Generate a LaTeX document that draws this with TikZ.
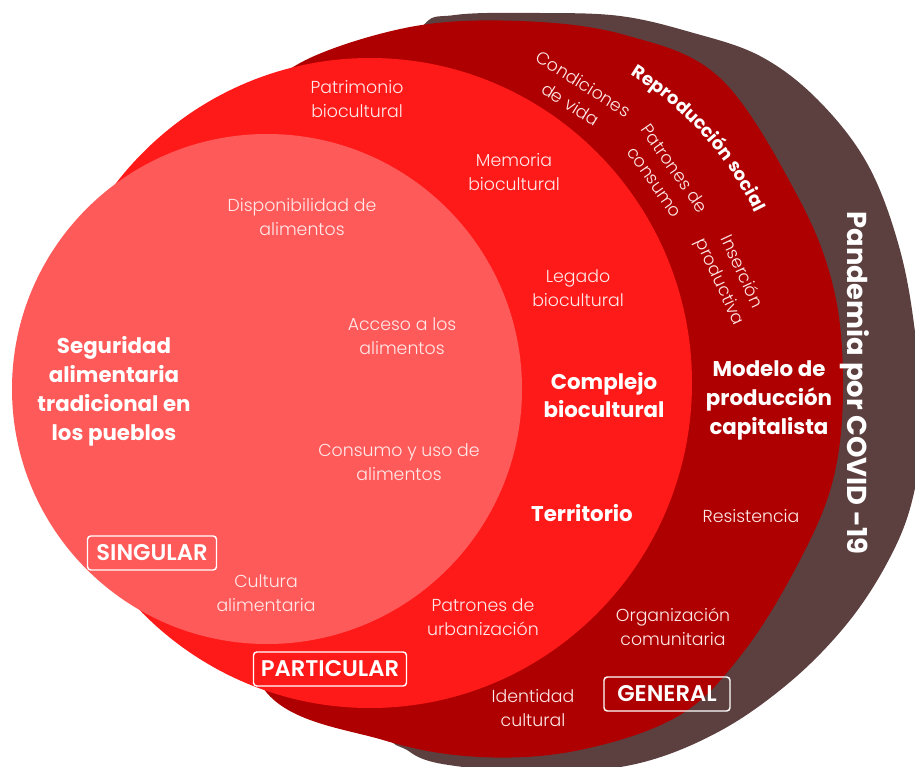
\documentclass[tikz,border=0pt]{standalone}
\usepackage{fontspec}
\setmainfont{Poppins}
\newfontfamily\litefont{Poppins Light}
\newfontfamily\semifont{Poppins SemiBold}
\newfontfamily\heavyfont{Poppins Bold}
\usetikzlibrary{decorations.text}
\definecolor{ringbrown}{HTML}{5C4040}
\definecolor{ringdark}{HTML}{AE0000}
\definecolor{ringred}{HTML}{FF1A1A}
\definecolor{ringlight}{HTML}{FF5A5A}
\definecolor{softwhite}{HTML}{FFE9E9}
\begin{document}
\begin{tikzpicture}[x=0.75pt,y=-0.75pt,
  lite/.style={font=\litefont\fontsize{13}{18}\selectfont,text=softwhite,align=center,inner sep=0pt},
  heavy/.style={font=\heavyfont\fontsize{16}{21.75}\selectfont,text=white,align=center,inner sep=0pt},
  tag/.style={draw=white,line width=1.1pt,rounded corners=2.5pt,
    font=\semifont\fontsize{17}{18}\selectfont,text=white,inner sep=0pt,minimum height=25.5pt}]
\useasboundingbox (0,0) rectangle (915,767);
\begin{scope}
  \clip (0,0) rectangle (915,767);
  % outer ring: pandemic
  \fill[ringbrown] plot[smooth cycle, tension=0.6] coordinates {
    (455,15) (540,13) (620,16) (690,32) (760,56) (818,100) (868,165) (900,250)
    (916,340) (922,430) (911,505) (886,565) (846,625) (790,682) (720,731)
    (640,763) (550,773) (470,768) (410,752) (380,700) (360,420) (380,120) (420,30)};
  % capitalist production model
  \fill[ringdark] plot[smooth cycle, tension=0.6] coordinates {
    (300,63) (410,27) (520,21) (625,35) (720,78) (797,195) (834,290) (843,390)
    (833,480) (800,560) (745,650) (680,715) (580,750) (480,757) (383,740)
    (267,693) (230,560) (210,390) (230,220) (260,110)};
  % biocultural complex
  \fill[ringred] (370,383) ellipse [x radius=322, y radius=325];
  % traditional food security
  \fill[ringlight] (267,389) circle [radius=255];
\end{scope}

% inner circle
\node[heavy] (seguridad) at (114,391) {Seguridad\\alimentaria\\tradicional en\\los pueblos};
\node[lite] (disponibilidad) at (302,217) {Disponibilidad de\\alimentos};
\node[lite] (acceso) at (402,336) {Acceso a los\\alimentos};
\node[lite] (consumo) at (399,462) {Consumo y uso de\\alimentos};
\node[lite] (cultura) at (266,593) {Cultura\\alimentaria};
\node[tag, minimum width=96.75pt] (singular) at (152,553) {SINGULAR};

% biocultural ring
\node[lite] (patrimonio) at (357,99) {Patrimonio\\biocultural};
\node[lite] (memoria) at (514,172) {Memoria\\biocultural};
\node[lite] (legado) at (578,288) {Legado\\biocultural};
\node[heavy,font=\heavyfont\fontsize{16}{21}\selectfont] (complejo) at (604,395) {Complejo\\biocultural};
\node[heavy] (territorio) at (582,513) {Territorio};
\node[lite] (urbanizacion) at (483,617) {Patrones de\\urbanización};
\node[tag, minimum width=114.75pt] (particular) at (330,669) {PARTICULAR};

% capitalist ring
\node[lite, rotate=-32] (condiciones) at (577,94) {Condiciones\\de vida};
\node[lite, rotate=-55] (patrones) at (665,175) {Patrones de\\consumo};
\node[lite, rotate=-65] (insercion) at (730,277) {Inserción\\productiva};
\path[decorate, decoration={text along path, text align=center, text color=white,
    text={|\heavyfont\fontsize{13.5}{15}\selectfont|Reproducción social}}]
  (453,360) ++(-63:336) arc[start angle=-63, end angle=-21, radius=336];
\node[heavy] (modelo) at (769,400) {Modelo de\\producción\\capitalista};
\node[lite] (resistencia) at (751,516) {Resistencia};
\node[lite] (organizacion) at (673,627) {Organización\\comunitaria};
\node[lite] (identidad) at (533,708) {Identidad\\cultural};
\node[tag, minimum width=94.5pt] (general) at (667,694) {GENERAL};

% outer ring
\node[font=\heavyfont\fontsize{20.5}{22}\selectfont, text=white, rotate=-90, inner sep=0pt]
  (pandemia) at (855,383) {Pandemia por COVID -19};
\end{tikzpicture}
\end{document}
